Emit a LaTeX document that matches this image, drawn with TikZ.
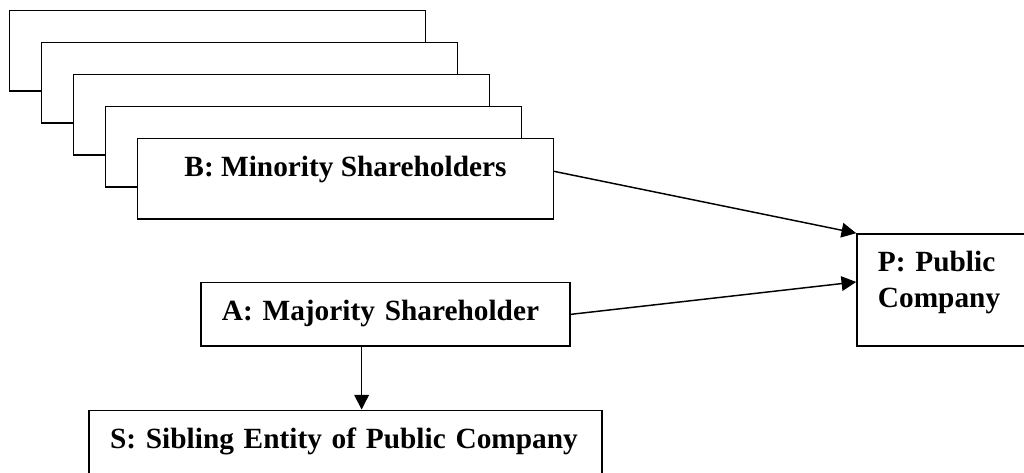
\documentclass[tikz,border=0pt]{standalone}
\usepackage{fontspec}
\setmainfont{Liberation Serif}
\usepackage{tikz}
\usetikzlibrary{positioning}
\usetikzlibrary{shapes.geometric, arrows.meta}
\tikzstyle{shareBox} = [rectangle, minimum width=170.2pt, text height=15.55pt, text depth=17.35pt, inner ysep=0pt, align=center, draw=black, fill=white, semithick]
\tikzstyle{textBox} = [rectangle, text height=15.55pt, inner ysep=0pt, inner xsep=8.6pt, align=left, draw=black, fill=white, semithick]
\tikzstyle{arrow} = [semithick,-{Triangle[length=6pt,width=6pt]}]

\begin{document}
\begin{tikzpicture}[node distance=13.09pt, font=\fontsize{12}{14.57}\selectfont\bfseries]
	\path[use as bounding box, clip] (0,0) rectangle (419pt,193.13pt);
	
	\node (stack1) [shareBox] at (89pt,172.3pt) {};
	
	\node (stack2) [shareBox, below of=stack1, right of=stack1] {};
	
	\node (stack3) [shareBox, below of=stack2, right of=stack2] {};
	
	\node (stack4) [shareBox, below of=stack3, right of=stack3] {};
	
	\node (minority) [shareBox, below of=stack4, right of=stack4] {B: Minority Shareholders};
	
	\node (majority) [textBox, text width=133.8pt, text depth=10.35pt, below of=minority, xshift=16.34pt, yshift=-42.35pt] {A: Majority Shareholder};
	
	\node (sibling) [textBox, text width=192.7pt, text depth=17.35pt, below of=majority, xshift=-16.3pt, yshift=-42.6pt] {S: Sibling Entity of Public Company};
	
	\node (publicCo) [textBox, text width=56.5pt, text depth=30.28pt, right of=majority, xshift=216.7pt, yshift=10pt] {P: Public\\Company};
	
	\draw [arrow] ([yshift=3.07pt]minority.east) -- (publicCo.north west);
	\draw [arrow] (majority.east) -- ([yshift=3.27pt]publicCo.west);
	\draw [arrow] ([xshift=-9.74pt]majority.south) -- ([xshift=-9.74pt]majority.south |- sibling.north);
\end{tikzpicture}
\end{document}
